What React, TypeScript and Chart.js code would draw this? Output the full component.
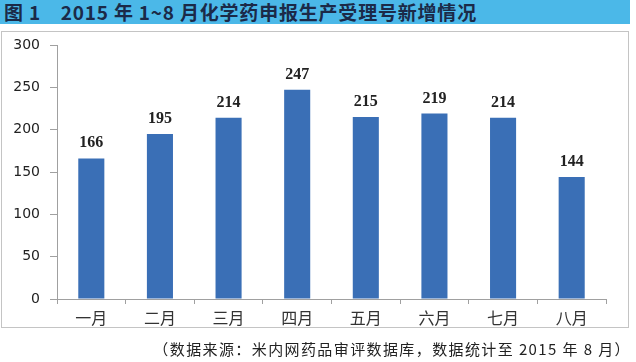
import React, { useEffect, useRef } from "react";
import { Chart, registerables } from "chart.js";

Chart.register(...registerables);

const titleText = "图 1　2015 年 1~8 月化学药申报生产受理号新增情况";
const noteText = "（数据来源：米内网药品审评数据库，数据统计至 2015 年 8 月）";
const months = ["一月", "二月", "三月", "四月", "五月", "六月", "七月", "八月"];
const newCounts = [166, 195, 214, 247, 215, 219, 214, 144];
const yTicks = [0, 50, 100, 150, 200, 250, 300];

const valueLabels = {
  id: "valueLabels",
  afterDatasetsDraw(chart: any) {
    const ctx = chart.ctx;
    const meta = chart.getDatasetMeta(0);
    ctx.save();
    ctx.font = "bold 16px 'Liberation Serif', serif";
    ctx.fillStyle = "#222";
    ctx.textAlign = "center";
    ctx.textBaseline = "alphabetic";
    meta.data.forEach((bar: any, i: number) => {
      ctx.fillText(String(chart.data.datasets[0].data[i]), bar.x, bar.y - 11);
    });
    ctx.restore();
  },
};

export default function App() {
  const ref = useRef<HTMLCanvasElement | null>(null);
  useEffect(() => {
    document.body.style.margin = "0";
    const chart = new Chart(ref.current as HTMLCanvasElement, {
      type: "bar",
      data: {
        labels: months,
        datasets: [
          {
            data: newCounts,
            backgroundColor: "#3a6fb6",
            borderWidth: 0,
            barPercentage: 0.38,
            categoryPercentage: 1,
          },
        ],
      },
      options: {
        animation: false,
        responsive: false,
        layout: { padding: { left: 0, top: 45, right: 30, bottom: 0 } },
        plugins: { legend: { display: false }, tooltip: { enabled: false } },
        scales: {
          x: {
            afterFit: (s: any) => {
              s.height = 63;
            },
            grid: {
              display: true,
              drawOnChartArea: false,
              offset: true,
              tickLength: 5,
              color: "#a0a0a0",
            },
            border: { display: true, color: "#a0a0a0" },
            ticks: {
              font: { family: "'Noto Sans CJK SC'", size: 16 },
              color: "#333",
              padding: 4,
            },
          },
          y: {
            min: 0,
            max: 300,
            afterFit: (s: any) => {
              s.width = 57;
            },
            afterBuildTicks: (s: any) => {
              s.ticks = yTicks.map((v) => ({ value: v }));
            },
            grid: {
              display: true,
              drawOnChartArea: false,
              tickLength: 7,
              color: "#a0a0a0",
            },
            border: { display: true, color: "#a0a0a0" },
            ticks: {
              font: { family: "'DejaVu Sans'", size: 14 },
              color: "#222",
              padding: 10,
            },
          },
        },
      },
      plugins: [valueLabels],
    });
    return () => chart.destroy();
  }, []);

  return (
    <div style={{ position: "fixed", left: 0, top: 0, width: 636, height: 362, background: "#fff", overflow: "hidden" }}>
      <div
        style={{
          position: "absolute",
          left: 0,
          top: 0,
          width: 630,
          height: 24,
          background: "#4bb8e8",
          color: "#1b2a48",
          fontFamily: "'Noto Sans CJK SC', sans-serif",
          fontWeight: "bold",
          fontSize: 19,
          lineHeight: "24px",
          letterSpacing: 0.8,
          paddingLeft: 4,
          boxSizing: "border-box",
          whiteSpace: "nowrap",
        }}
      >
        {titleText}
      </div>
      <div
        style={{
          position: "absolute",
          left: 1,
          top: 31,
          width: 628,
          height: 297,
          border: "1px solid #c4c4c4",
          boxSizing: "border-box",
        }}
      />
      <canvas ref={ref} width={636} height={362} style={{ position: "absolute", left: 0, top: 0 }} />
      <div
        style={{
          position: "absolute",
          right: 5,
          top: 339,
          color: "#222",
          fontFamily: "'Noto Sans CJK SC', serif",
          fontSize: 15,
          lineHeight: "20px",
          letterSpacing: 1.4,
          whiteSpace: "nowrap",
        }}
      >
        {noteText}
      </div>
    </div>
  );
}
